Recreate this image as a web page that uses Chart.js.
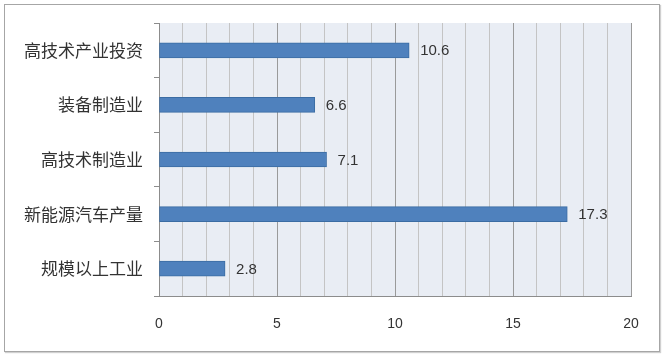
<!DOCTYPE html>
<html>
<head>
<meta charset="utf-8">
<script src="https://cdn.jsdelivr.net/npm/chart.js@4"></script>
<style>
body{margin:0;background:#fff;}
#wrap{position:absolute;left:0;top:0;width:664px;height:355px;}
#frame{position:absolute;left:4px;top:4px;width:654px;height:346px;border:1px solid #a6a6a6;box-shadow:1px 1px 1px #d0d0d0;}
canvas{position:absolute;left:0;top:0;}
</style>
</head>
<body>
<div id="wrap">
<div id="frame"></div>
<canvas id="chart" width="664" height="355"></canvas>
</div>
<script>
/* DATA */
const categories=["高技术产业投资","装备制造业","高技术制造业","新能源汽车产量","规模以上工业"];
const values=[10.6,6.6,7.1,17.3,2.8];
const xMin=0, xMax=20, xMajor=5;

/* plot background */
const plotBg={
    id:"plotBg",
    beforeDraw(chart){
        const a=chart.chartArea, c=chart.ctx;
        c.save();
        c.fillStyle="#e9edf4";
        c.fillRect(a.left,a.top,a.right-a.left,a.bottom-a.top);
        c.restore();
    }
};

/* value labels */
const valueLabels={
    id:"valueLabels",
    afterDatasetsDraw(chart){
        const c=chart.ctx;
        const meta=chart.getDatasetMeta(0);
        c.save();
        c.font="15px 'Liberation Sans', Arial, sans-serif";
        c.fillStyle="#333";
        c.textBaseline="middle";
        meta.data.forEach((bar,i)=>{
            c.fillText(values[i].toFixed(1),bar.x+11,bar.y+1);
        });
        c.restore();
    }
};

new Chart(document.getElementById("chart"),{
    type:"bar",
    data:{
        labels:categories,
        datasets:[{
            data:values,
            backgroundColor:"#4f81bd",
            borderColor:"#3b6ca3",
            borderWidth:1,
            borderSkipped:false,
            barThickness:15
        }]
    },
    options:{
        indexAxis:"y",
        responsive:false,
        animation:false,
        layout:{padding:{top:23,right:33,left:0,bottom:0}},
        plugins:{legend:{display:false},tooltip:{enabled:false}},
        scales:{
            x:{
                min:xMin,max:xMax,
                afterFit(s){s.height=59;},
                border:{display:true,color:"#8c8c8c",width:1},
                grid:{
                    drawTicks:false,
                    color:ctx=>(ctx.tick && ctx.tick.value%xMajor===0)?"#9a9a9a":"#c4c4c4",
                    lineWidth:1
                },
                ticks:{
                    stepSize:1,
                    padding:20,
                    color:"#333",
                    font:{size:14,family:"'Liberation Sans', Arial, sans-serif"},
                    callback:v=>v%xMajor===0?String(v):""
                }
            },
            y:{
                afterFit(s){s.width=159;},
                border:{display:true,color:"#8c8c8c",width:1},
                grid:{drawOnChartArea:false,drawTicks:true,tickLength:5,color:"#8c8c8c"},
                ticks:{
                    padding:11,
                    color:"#333",
                    font:{size:17,family:"'Noto Sans CJK SC', sans-serif"}
                }
            }
        }
    },
    plugins:[plotBg,valueLabels]
});
</script>
</body>
</html>
